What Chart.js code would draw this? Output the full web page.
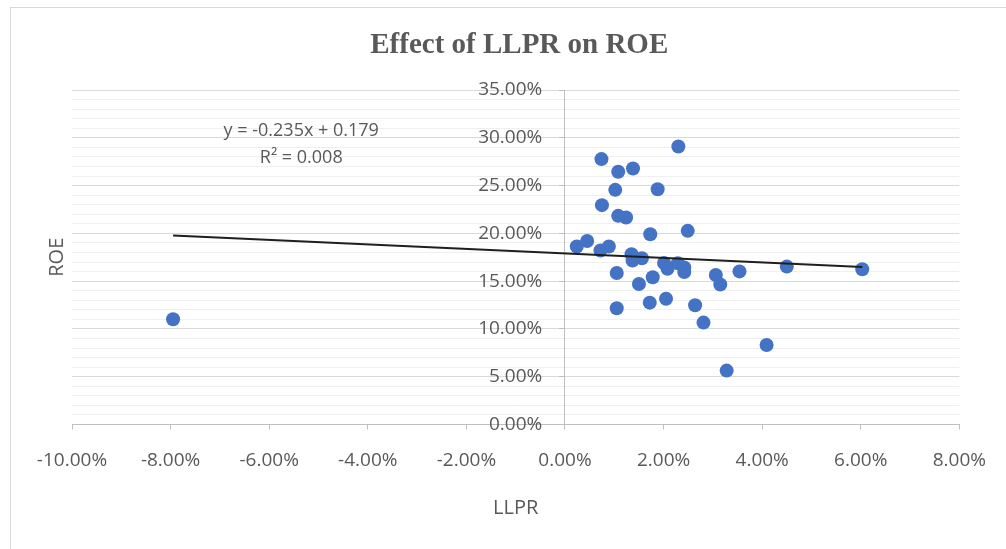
<!DOCTYPE html>
<html>
<head>
<meta charset="utf-8">
<script src="https://cdn.jsdelivr.net/npm/chart.js@4"></script>
<style>
html, body { margin: 0; padding: 0; background: #fff; }
#wrap { position: relative; width: 1006px; height: 549px; overflow: hidden; }
#frame { position: absolute; left: 10px; top: 7px; width: 1100px; height: 700px; border: 1px solid #d9d9d9; }
#grafica { position: absolute; left: 0; top: 0; }
</style>
</head>
<body>
<div id="wrap">
  <div id="frame"></div>
  <canvas id="grafica" width="1006" height="549"></canvas>
</div>
<script>
// valores (LLPR vs ROE)
const llpr = [-0.0795, 0.0024, 0.0045, 0.0072, 0.0089, 0.0074, 0.0108, 0.0138, 0.0230, 0.0102,
              0.0188, 0.0075, 0.0108, 0.0124, 0.0173, 0.0249, 0.0135, 0.0137, 0.0156, 0.0105,
              0.0150, 0.0178, 0.0201, 0.0208, 0.0229, 0.0242, 0.0242, 0.0306, 0.0315, 0.0354,
              0.0450, 0.0603, 0.0105, 0.0172, 0.0205, 0.0264, 0.0281, 0.0409, 0.0328];
const roe = [0.1102, 0.1862, 0.1920, 0.1820, 0.1862, 0.2777, 0.2644, 0.2679, 0.2909, 0.2455,
             0.2462, 0.2295, 0.2183, 0.2166, 0.1991, 0.2026, 0.1782, 0.1715, 0.1740, 0.1585,
             0.1470, 0.1541, 0.1690, 0.1630, 0.1688, 0.1642, 0.1595, 0.1565, 0.1465, 0.1602,
             0.1652, 0.1625, 0.1217, 0.1275, 0.1315, 0.1248, 0.1066, 0.0832, 0.0564];

// linea de tendencia (extremos)
const trendX = [-0.0795, 0.0603];
const trendY = [0.1977, 0.1648];
const trendText = ['y = -0.235x + 0.179', 'R\u00b2 = 0.008'];
const trendTextX = -0.0535;
const trendTextY = [0.3073, 0.2790];

const xTicks = {min: -0.10, max: 0.08, step: 0.02};
const yTicks = {min: 0, max: 0.35, step: 0.01, major: 5};

const gris = '#595959';
const fuente = 'Open Sans';

const pct = v => {
    if (Math.abs(v) < 1e-9) v = 0;
    return (v * 100).toFixed(2) + '%';
};
const esMayor = v => Math.round(v * 100) % yTicks.major === 0;

const textos = {
    id: 'textos',
    afterDraw(chart) {
        const {ctx, chartArea, scales} = chart;
        ctx.save();
        ctx.fillStyle = gris;
        ctx.textAlign = 'center';
        ctx.textBaseline = 'middle';
        ctx.font = '18px "' + fuente + '"';
        const tx = scales.x.getPixelForValue(trendTextX);
        trendText.forEach((t, i) => {
            ctx.fillText(t, tx, scales.y.getPixelForValue(trendTextY[i]));
        });
        // titulo eje y
        ctx.font = '20px "' + fuente + '"';
        ctx.translate(chartArea.left - 15, (chartArea.top + chartArea.bottom) / 2);
        ctx.rotate(-Math.PI / 2);
        ctx.fillText('ROE', 0, 0);
        ctx.restore();
    }
};

const g1 = new Chart('grafica', {
    data: {
        datasets: [{
            type: 'line',
            data: trendX.map((x, i) => ({x: x, y: trendY[i]})),
            borderColor: '#1f1f1f',
            borderWidth: 2,
            pointRadius: 0,
            fill: false,
            order: 0
        }, {
            type: 'scatter',
            data: llpr.map((x, i) => ({x: x, y: roe[i]})),
            backgroundColor: '#4472c4',
            borderColor: '#4472c4',
            pointRadius: 7,
            pointBorderWidth: 0,
            order: 1
        }]
    },
    options: {
        responsive: false,
        animation: false,
        layout: {padding: {left: 72, right: 39.5, top: 0, bottom: 24.5}},
        plugins: {
            legend: {display: false},
            tooltip: {enabled: false},
            title: {
                display: true,
                text: 'Effect of LLPR on ROE',
                color: gris,
                font: {family: 'Liberation Serif', size: 29, weight: 'bold', lineHeight: 1.2},
                padding: {top: 28, bottom: 27.2}
            }
        },
        scales: {
            x: {
                type: 'linear',
                position: 'bottom',
                min: xTicks.min,
                max: xTicks.max,
                afterFit: s => { s.height = 100; },
                ticks: {
                    stepSize: xTicks.step,
                    color: gris,
                    font: {family: fuente, size: 19},
                    padding: 20,
                    maxRotation: 0,
                    autoSkip: false,
                    callback: v => pct(v)
                },
                grid: {
                    drawOnChartArea: false,
                    drawTicks: true,
                    tickLength: 5,
                    tickColor: '#bfbfbf'
                },
                border: {color: '#bfbfbf', width: 1},
                title: {
                    display: true,
                    text: 'LLPR',
                    color: gris,
                    font: {family: fuente, size: 20, lineHeight: 1.2},
                    padding: {top: 0, bottom: 4.5}
                }
            },
            y: {
                type: 'linear',
                position: {x: 0},
                min: yTicks.min,
                max: yTicks.max,
                ticks: {
                    stepSize: yTicks.step,
                    autoSkip: false,
                    display: false
                },
                grid: {
                    color: c => esMayor(c.tick.value) ? '#d9d9d9' : '#efefef',
                    tickColor: c => esMayor(c.tick.value) ? '#bfbfbf' : 'rgba(0,0,0,0)',
                    tickLength: 5,
                    lineWidth: 1
                },
                border: {color: '#bfbfbf', width: 1}
            },
            // solo etiquetas del eje y, un poco a la izquierda del eje
            yEtiquetas: {
                type: 'linear',
                axis: 'y',
                position: {x: -0.0046},
                min: yTicks.min,
                max: yTicks.max,
                ticks: {
                    stepSize: yTicks.step,
                    autoSkip: false,
                    color: gris,
                    font: {family: fuente, size: 19},
                    callback: v => esMayor(v) ? pct(Math.round(v * 100) / 100) : ''
                },
                grid: {display: false},
                border: {display: false}
            }
        }
    },
    plugins: [textos]
});
</script>
</body>
</html>
